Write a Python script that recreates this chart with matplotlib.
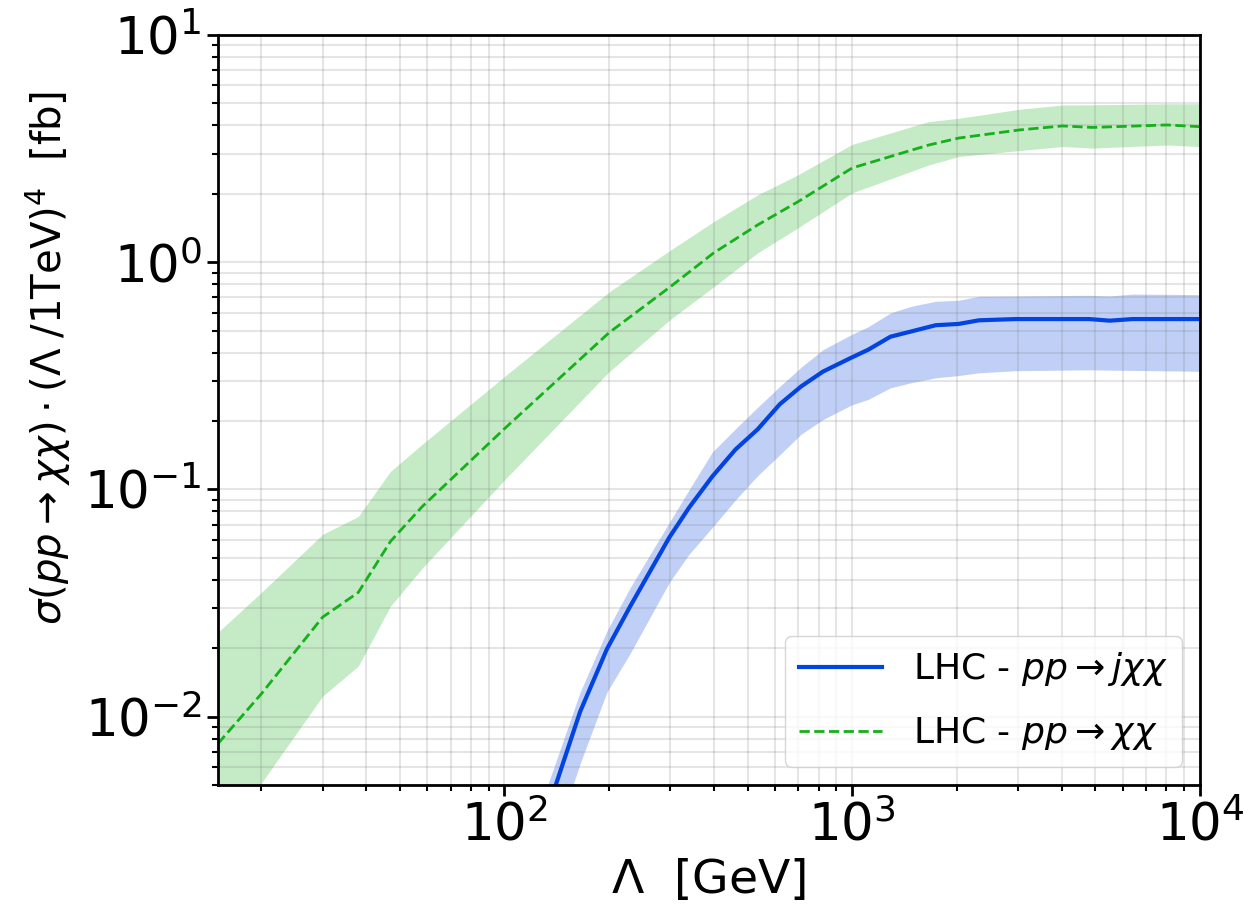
import matplotlib
matplotlib.use('Agg')
import matplotlib.pyplot as plt
import numpy as np

# Lambda grid and cross sections for pp -> j chi chi (monojet)
lam_jxx = [130, 165, 197, 230, 298, 340, 396, 462, 535, 619, 713, 824, 994, 1112,
           1288, 1480, 1738, 2024, 2313, 2952, 4808, 5500, 6400, 10000]
sig_jxx = [3.5e-3, 0.0105, 0.0198, 0.0306, 0.0615, 0.0834, 0.114, 0.150, 0.184, 0.237,
           0.284, 0.330, 0.380, 0.412, 0.470, 0.496, 0.528, 0.535, 0.555, 0.562,
           0.562, 0.553, 0.562, 0.562]
sig_jxx_up = [4.5e-3, 0.0128, 0.0238, 0.037, 0.0716, 0.10, 0.146, 0.185, 0.23, 0.284,
              0.345, 0.412, 0.48, 0.52, 0.598, 0.64, 0.673, 0.68, 0.708, 0.71,
              0.715, 0.71, 0.724, 0.72]
sig_jxx_lo = [2.1e-3, 6.2e-3, 0.0128, 0.019, 0.039, 0.052, 0.068, 0.09, 0.115, 0.142,
              0.175, 0.203, 0.235, 0.249, 0.280, 0.295, 0.31, 0.317, 0.326, 0.333,
              0.336, 0.335, 0.334, 0.331]

# Lambda grid and cross sections for pp -> chi chi
lam_xx = [15, 20, 30, 38, 47, 58, 100, 200, 300, 400, 535, 700, 1000, 1660, 2025,
          3020, 4020, 4910, 8030, 10000]
sig_xx = [7.6e-3, 0.0126, 0.0274, 0.0352, 0.059, 0.084, 0.185, 0.49, 0.78, 1.10, 1.46,
          1.85, 2.6, 3.28, 3.52, 3.82, 3.98, 3.92, 4.02, 3.95]
sig_xx_up = [0.0235, 0.0352, 0.0634, 0.076, 0.12, 0.158, 0.314, 0.74, 1.13, 1.51, 1.98,
             2.43, 3.3, 4.16, 4.3, 4.71, 4.92, 4.93, 4.98, 4.98]
sig_xx_lo = [2.7e-3, 5.1e-3, 0.0123, 0.0167, 0.0306, 0.045, 0.11, 0.33, 0.56, 0.78, 1.10,
             1.42, 2.02, 2.68, 2.92, 3.1, 3.23, 3.18, 3.28, 3.23]

blue = '#0343df'
green = '#15b01a'

fig = plt.figure(figsize=(12.44, 9.1), dpi=100)
ax = fig.add_axes([0.1752, 0.1374, 0.7894, 0.8241])

# uncertainty bands first, central values on top
ax.fill_between(lam_jxx, sig_jxx_lo, sig_jxx_up, color=blue, alpha=0.25, linewidth=0)
ax.plot(lam_jxx, sig_jxx, color=blue, linewidth=3, label=r'LHC - $pp\rightarrow j\chi\chi$')
ax.fill_between(lam_xx, sig_xx_lo, sig_xx_up, color=green, alpha=0.25, linewidth=0)
ax.plot(lam_xx, sig_xx, color=green, linewidth=2, linestyle='--',
        label=r'LHC - $pp\rightarrow \chi\chi$')

ax.set_xscale('log')
ax.set_yscale('log')
ax.set_xlim(15, 1e4)
ax.set_ylim(5e-3, 10)

ax.grid(True, which='both', color='grey', alpha=0.2, linewidth=1.5)
for s in ax.spines.values():
    s.set_linewidth(2)
ax.tick_params(which='major', labelsize=37, length=8, width=2)
ax.tick_params(which='minor', length=4, width=1.5)

ax.set_xlabel(r'$\Lambda$  [GeV]', fontsize=34, labelpad=4)
ax.set_ylabel(r'$\sigma(pp\rightarrow \chi\chi)\cdot(\Lambda\;/1\mathrm{TeV})^4$  [fb]', fontsize=29)
ax.yaxis.set_label_coords(-0.148, 0.57)

ax.legend(loc='lower right', fontsize=26, handlelength=2.3, handletextpad=0.85,
          labelspacing=0.75)

fig.savefig('out.png', dpi=100)
